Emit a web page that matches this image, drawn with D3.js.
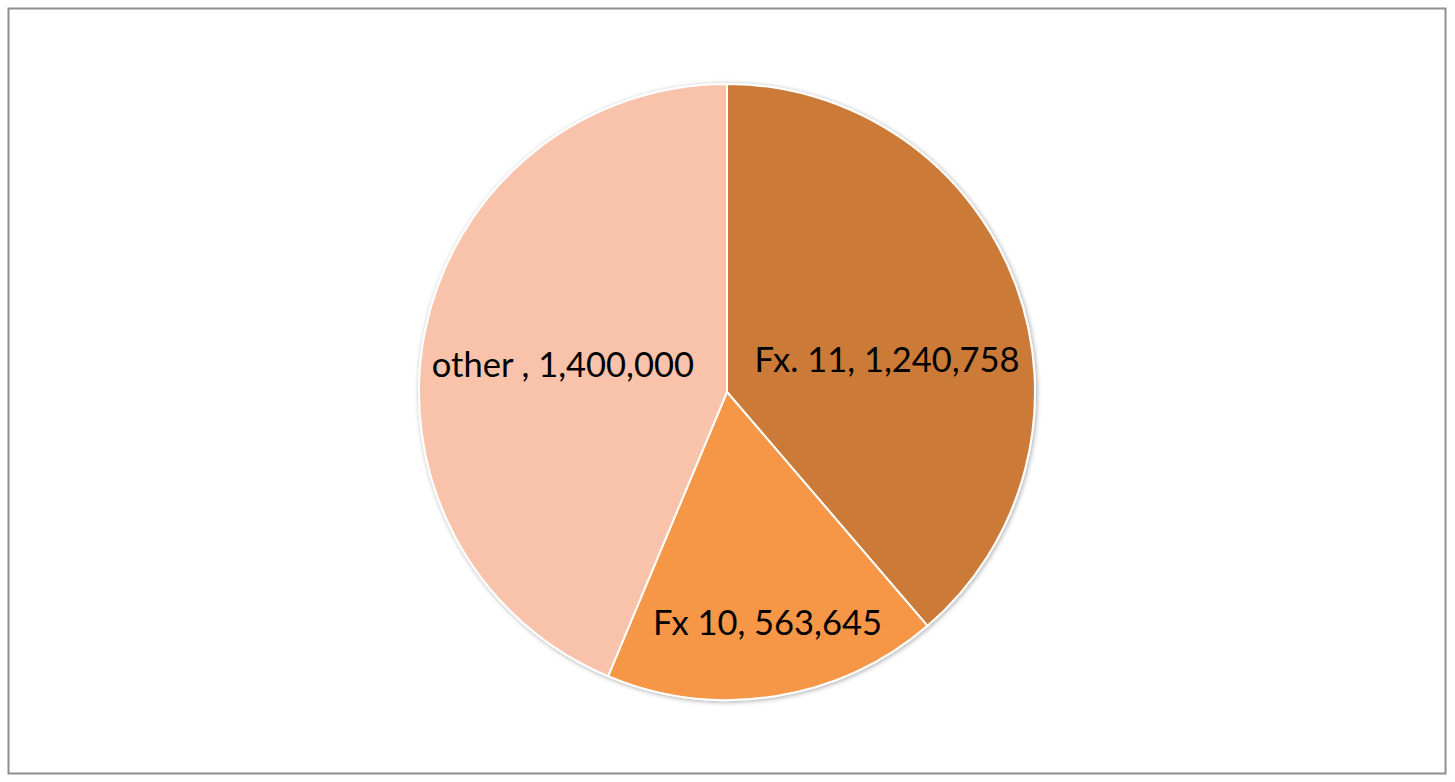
<!DOCTYPE html>
<html><head><meta charset="utf-8">
<script src="https://cdn.jsdelivr.net/npm/d3@7"></script>
<style>html,body{margin:0;padding:0;background:#fff;}svg{display:block;}</style>
</head><body>
<svg id="chart" width="1455" height="782"></svg>
<script>
const categories = ["Fx. 11", "Fx 10", "other "];
const values = [1240758, 563645, 1400000];
const colors = ["#CC7A38", "#F69646", "#F8C3AA"];

const W = 1455, H = 782;
const cx = 727, cy = 392, R = 308;
// label placement (radius factor, angle shift in degrees) per slice
const labelLayout = [{rf: 0.53, da: 9}, {rf: 0.76, da: -1}, {rf: 0.54, da: -2}];

const svg = d3.select("#chart");
svg.append("rect").attr("x", 8.5).attr("y", 8.5).attr("width", 1437).attr("height", 765)
  .attr("fill", "#fff").attr("stroke", "#8f8f8f").attr("stroke-width", 2);

const defs = svg.append("defs");
const f = defs.append("filter").attr("id", "sh").attr("x", "-10%").attr("y", "-10%").attr("width", "120%").attr("height", "120%");
f.append("feGaussianBlur").attr("in", "SourceAlpha").attr("stdDeviation", 2.5).attr("result", "b");
f.append("feOffset").attr("in", "b").attr("dx", 1).attr("dy", 1).attr("result", "o");
f.append("feComponentTransfer").attr("in", "o").attr("result", "o2").append("feFuncA").attr("type", "linear").attr("slope", 0.35);
const m = f.append("feMerge"); m.append("feMergeNode").attr("in", "o2"); m.append("feMergeNode").attr("in", "SourceGraphic");

const data = categories.map((c, i) => ({cat: c, value: values[i], color: colors[i]}));
const pie = d3.pie().value(d => d.value).sort(null);
const arcs = pie(data);
const arc = d3.arc().innerRadius(0).outerRadius(R);

const g = svg.append("g").attr("transform", `translate(${cx},${cy})`);
g.append("g").attr("filter", "url(#sh)").selectAll("path").data(arcs).join("path")
  .attr("d", arc).attr("fill", d => d.data.color).attr("stroke", "#fff").attr("stroke-width", 2);

const fmt = d3.format(",");
g.selectAll("text").data(arcs).join("text")
  .attr("transform", (d, i) => {
    const L = labelLayout[i];
    const a = (d.startAngle + d.endAngle) / 2 + L.da * Math.PI / 180;
    const r = R * L.rf;
    return `translate(${r * Math.sin(a)},${-r * Math.cos(a)})`;
  })
  .attr("text-anchor", "middle").attr("dy", "0.35em")
  .attr("font-family", "Lato, 'Open Sans', sans-serif").attr("font-size", 34.5)
  .attr("fill", "#000")
  .text(d => `${d.data.cat}, ${fmt(d.data.value)}`);
</script>
</body></html>
